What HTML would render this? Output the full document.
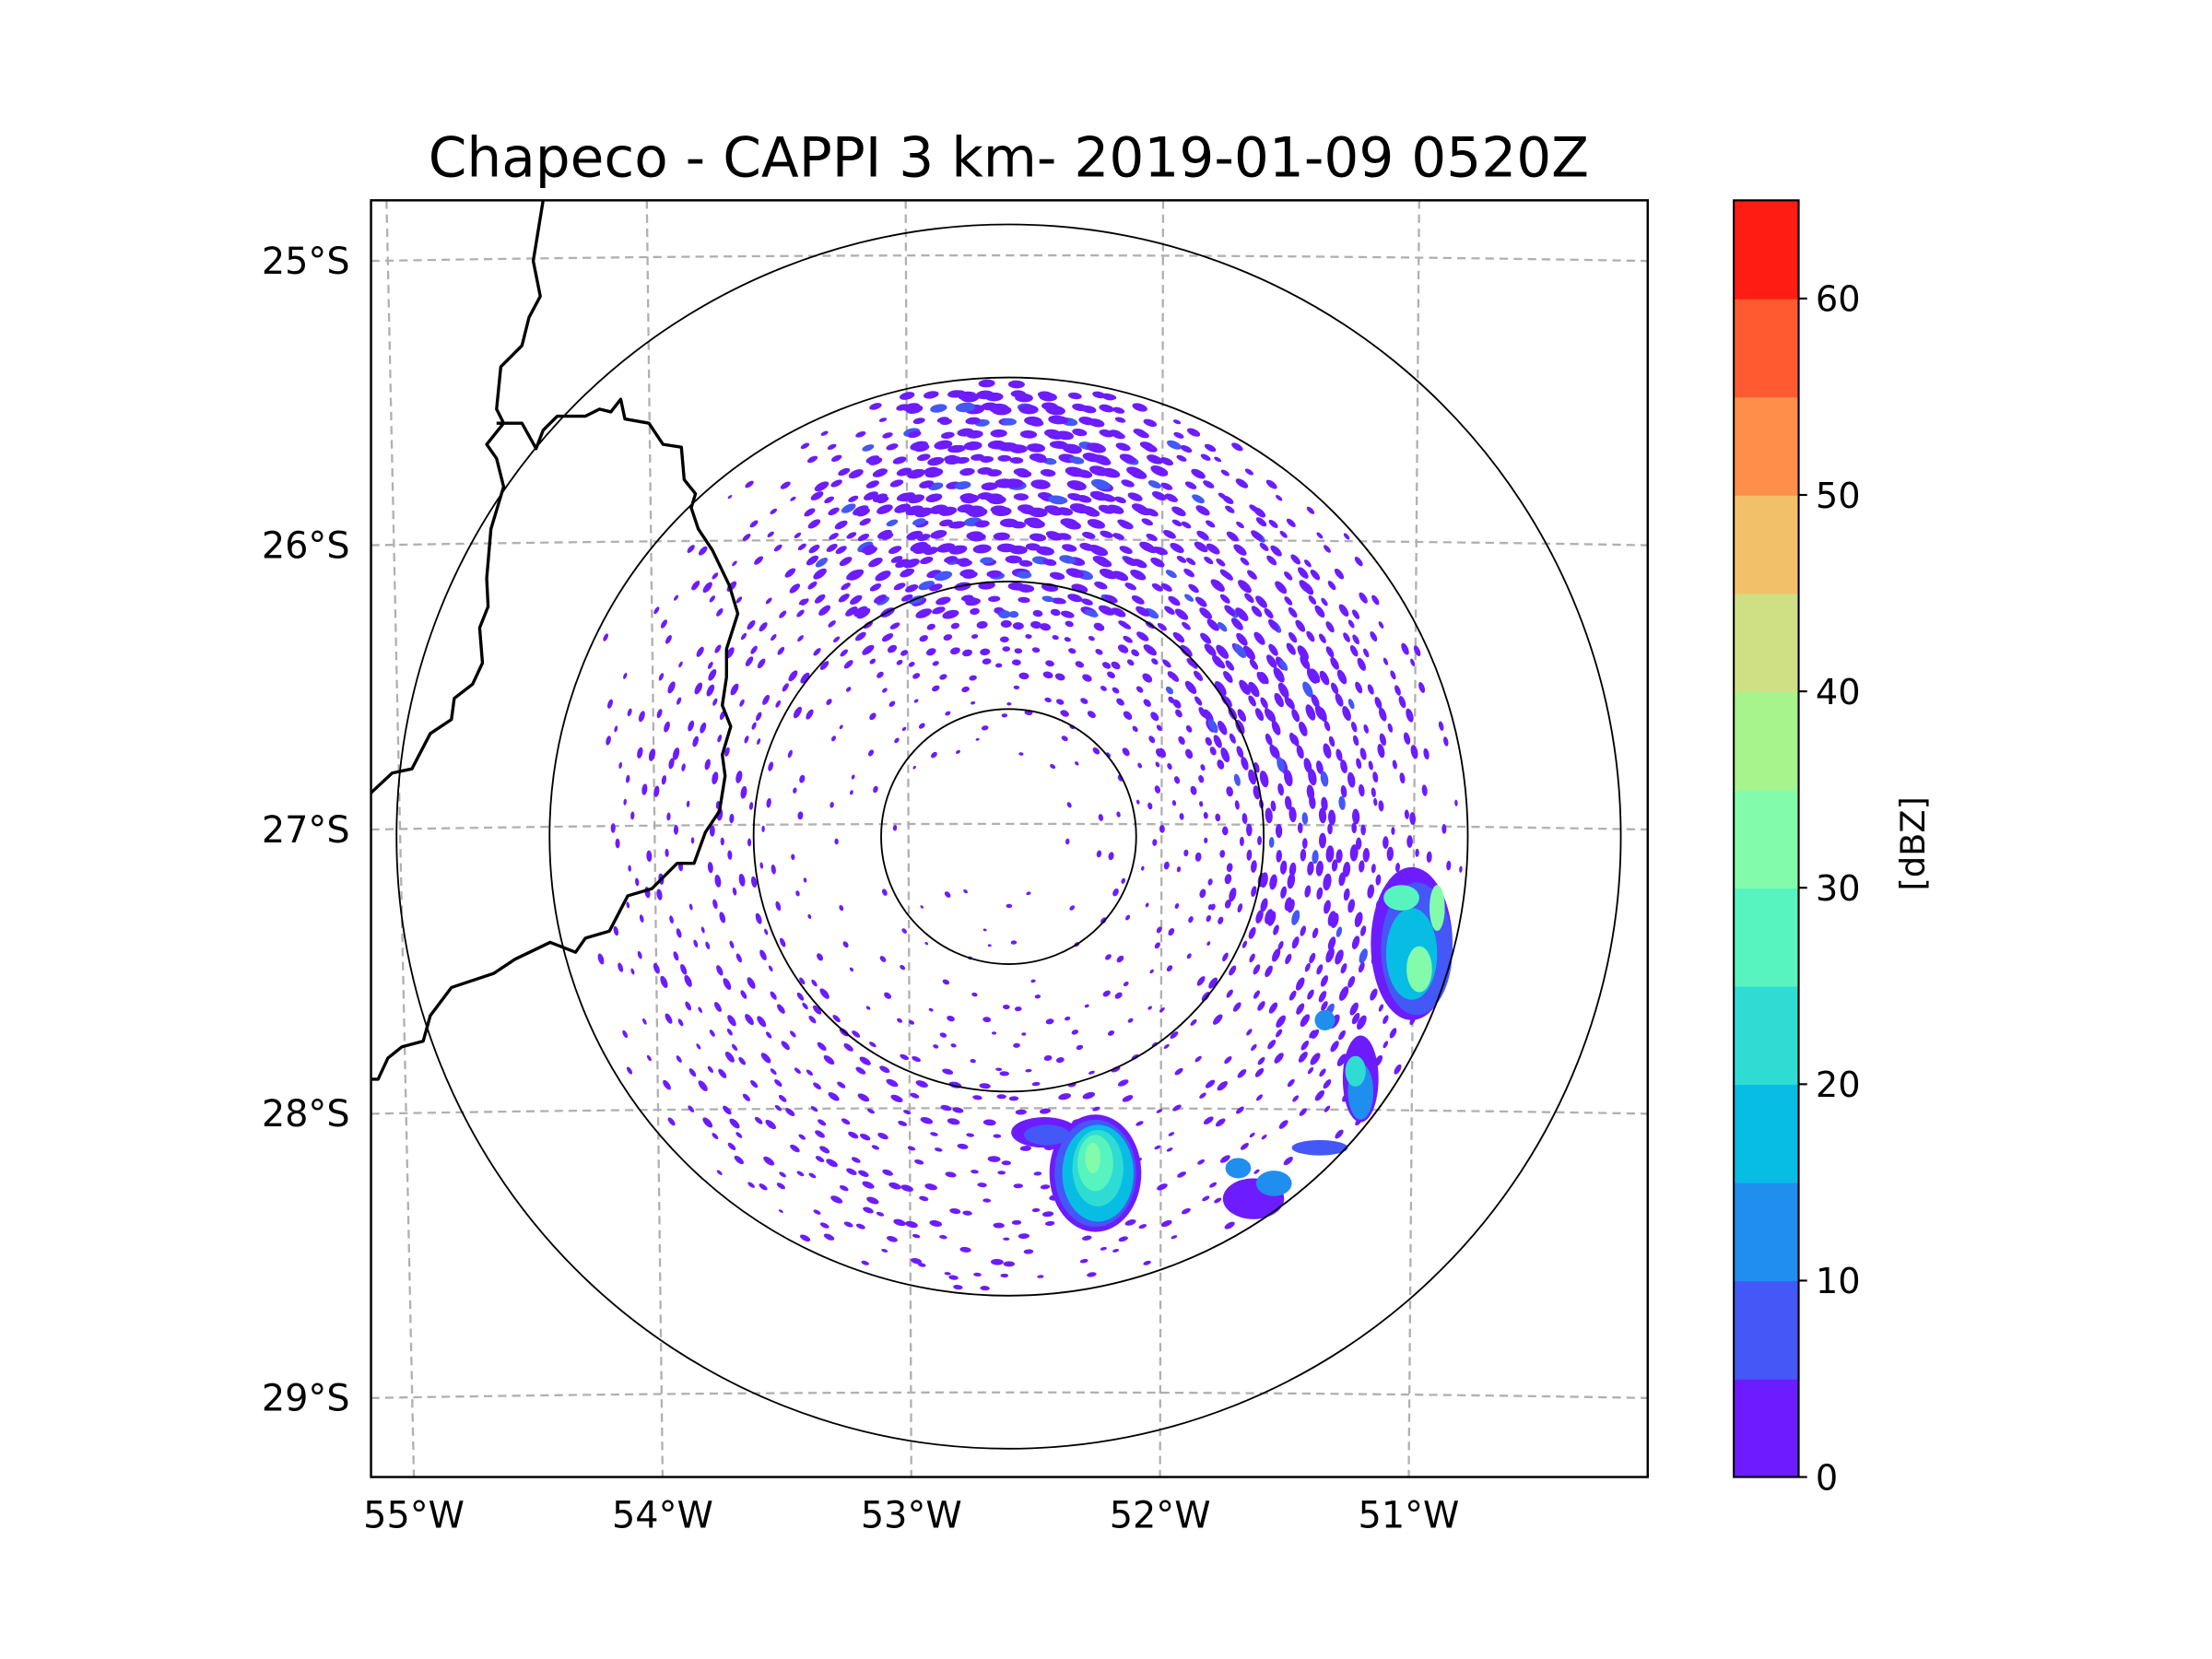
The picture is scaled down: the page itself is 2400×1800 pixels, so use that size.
<!DOCTYPE html>
<html><head><meta charset="utf-8">
<style>
html,body{margin:0;padding:0;background:#fff;}
svg{display:block;font-family:"DejaVu Sans","Liberation Sans",sans-serif;}
</style></head>
<body>
<svg id="chart" width="2400" height="1800" viewBox="0 0 1568 1176" preserveAspectRatio="none" xmlns="http://www.w3.org/2000/svg">
<rect x="0" y="0" width="1568" height="1176" fill="#fff"/>
<text x="715" y="125" font-size="39" text-anchor="middle" fill="#000">Chapeco - CAPPI 3 km- 2019-01-09 0520Z</text>
<defs><clipPath id="axclip"><rect x="263" y="142" width="905" height="905"/></clipPath></defs>
<g id="grid" clip-path="url(#axclip)"></g>
<g id="echoes" clip-path="url(#axclip)"></g>
<g id="rings" clip-path="url(#axclip)"></g>
<g clip-path="url(#axclip)" fill="none" stroke="#000" stroke-width="2.2" stroke-linejoin="round">
<path d="M385,142 L378,185 L383,210 L375,225 L370,245 L355,260 L352,290 L357,300 L345,315 L352,325 L357,345 L348,375 L345,410 L346,430 L340,445 L342,470 L335,485 L322,495 L320,510 L305,520 L292,545 L278,548 L263,562"/>
<path d="M352,300 L370,300 L380,318 L385,305 L395,295 L415,295 L425,290 L433,292 L440,283 L443,297 L460,300 L470,315 L483,317 L485,340 L493,350 L490,360 L495,375 L505,390 L517,415 L523,435 L515,460 L515,480 L512,500 L518,515 L512,535 L514,550 L510,575 L500,590 L492,612 L480,612 L462,630 L445,635 L432,660 L415,665 L408,675 L390,668 L365,680 L350,690 L320,700 L305,720 L300,738 L285,742 L275,750 L268,765 L263,765"/>
</g>
<rect x="263" y="142" width="905" height="905" fill="none" stroke="#000" stroke-width="1.6"/>
<g id="ticks" font-size="26" fill="#000"></g>
<g id="cbar"></g>
<text x="0" y="0" font-size="24" text-anchor="middle" transform="translate(1364,598) rotate(-90)">[dBZ]</text>
</svg>
<script>
// ---- data ----
const lonTicks = [-55, -54, -53, -52, -51];
const latTicks = [-25, -26, -27, -28, -29];
const ringRangesKm = [50, 100, 180, 240];
const cbarLevels = [0,5,10,15,20,25,30,35,40,45,50,55,60,65];
const cbarColors = ["#6c1cff","#4358f6","#1f8eef","#07bde4","#2fdcd3","#57f4c0","#82fcaa","#a7f38c","#cfdf83","#f3c06a","#ff8e4b","#ff5a30","#ff1c12"];
const cbarTickValues = [0,10,20,30,40,50,60];
// convective cells: position/size in km, reflectivity in dBZ
const cellX = [ 34, 14, 15, 34, 35, 35, 34, 33,   158,160,158,154,161,168,   138,138,136,  124,  96,104,122,  90];
const cellY = [-132,-116,-117,-132,-132,-130,-128,-126, -42,-44,-46,-24,-52,-28, -95,-100,-92, -72, -142,-136,-122,-130];
const cellRx= [ 18, 13, 9, 16, 14, 10, 7, 3,   16,14,10,7,5,3,   7,5,4,   4,  12,7,11,5];
const cellRy= [ 23, 6, 4, 21, 19, 15, 11, 6,   30,26,18,5,9,9,   17,11,6,   4,  8,5,3,4];
const cellDbz=[  3, 3, 8, 8, 17, 22, 27, 33,   3,8,17,27,30,30,   3,12,22,  14,  3,10,6,12];
// weak-echo coverage (0-9) on a 20 km grid, rows from y=+170 km down to -170 km, cols x=-170..170 km
const coverageRows = [
"000000368875300000",
"000013577787532000",
"000125678886543100",
"001235677776554310",
"012334566665565431",
"012333444445566532",
"023332222234566542",
"023321111123456542",
"022321100012345532",
"022321000012345642",
"022221111112345542",
"023322111112234542",
"012333222222234531",
"012333332222233431",
"001333333332222310",
"000233333322222200",
"000013332322221000",
"000000223222000000"
];

// ---- scales ----
const NS = "http://www.w3.org/2000/svg";
const cx = 715, cy = 593, pxPerKm = 1.808;
function kmX(k){ return cx + k*pxPerKm; }
function kmY(k){ return cy - k*pxPerKm; }
function lonX(lon, yFrac){
  const top = 642 + (lon+53)*183 - (lon+53)*(lon+53)*0.5;
  const bot = 646 + (lon+53)*176.3;
  return top + (bot-top)*yFrac;
}
function latY(lat){ return 588 + (-(lat)-27)*201.5; }
function cbY(v){ return 1047 - (v-cbarLevels[0])/(cbarLevels[cbarLevels.length-1]-cbarLevels[0])*905; }
function dbzColor(v){ let i=Math.floor(v/5); if(i<0)i=0; if(i>=cbarColors.length)i=cbarColors.length-1; return cbarColors[i]; }
function mk(tag, attrs, parent){ const e=document.createElementNS(NS,tag); for(const k in attrs) e.setAttribute(k, attrs[k]); parent.appendChild(e); return e; }

const grid = document.getElementById('grid');
lonTicks.forEach(lon=>{
  const l = mk('line',{x1:lonX(lon,0),y1:142,x2:lonX(lon,1),y2:1047,stroke:'#b0b0b0','stroke-width':1.5,'stroke-dasharray':'6,4'},grid);
  
  
});
latTicks.forEach(lat=>{
  const y=latY(lat);
  const p = mk('path',{d:`M263,${y} Q715,${y-8} 1168,${y}`,fill:'none',stroke:'#b0b0b0','stroke-width':1.5,'stroke-dasharray':'6,4'},grid);
  
  
});

const echoes = document.getElementById('echoes');
// fixed low-discrepancy sub-cell layout (layout, not data)
const lattice = [];
for(let k=0;k<18;k++){ lattice.push([((k*0.6180339+0.3)%1)*20-10, ((k*0.7548777+0.6)%1)*20-10]); }
coverageRows.forEach((row, ri)=>{
  const yc = 170 - ri*20;
  for(let ci=0; ci<row.length; ci++){
    const xc = -170 + ci*20;
    const d = +row[ci];
    const n = d*2;
    for(let k=0;k<n;k++){
      const jx = lattice[(k+ri*5+ci*3)%18][0], jy = lattice[(k+ri*7+ci*11)%18][1];
      const px = xc + jx, py = yc + jy;
      const r = Math.hypot(px,py);
      if(r>178 || r<12) continue;
      const ang = Math.atan2(-py, px)*180/Math.PI + 90;
      const sz = 0.6 + d*0.22 + ((k+ci)%4)*0.25;
      const X = kmX(px), Y = kmY(py);
      const e = mk('ellipse',{cx:X,cy:Y,rx:sz*pxPerKm*(r>90?1.25:0.9),ry:sz*pxPerKm*0.6,fill:cbarColors[((k+ri)%11===4 && d>4)?1:0],transform:`rotate(${ang.toFixed(1)} ${X.toFixed(1)} ${Y.toFixed(1)})`},echoes);
      
      
    }
  }
});
for(let i=0;i<cellX.length;i++){
  const e = mk('ellipse',{cx:kmX(cellX[i]),cy:kmY(cellY[i]),rx:cellRx[i]*pxPerKm,ry:cellRy[i]*pxPerKm,fill:dbzColor(cellDbz[i])},echoes);
  
  
}

const rings = document.getElementById('rings');
ringRangesKm.forEach(r=>{
  const c = mk('circle',{cx:cx,cy:cy,r:r*pxPerKm,fill:'none',stroke:'#000','stroke-width':1.2},rings);
  
  
});

const ticks = document.getElementById('ticks');
lonTicks.forEach(lon=>{
  const t = mk('text',{x:lonX(lon,1),y:1083,'text-anchor':'middle'},ticks);
  t.textContent = Math.abs(lon)+'°W';
  
  
});
latTicks.forEach(lat=>{
  const t = mk('text',{x:248,y:latY(lat)+9,'text-anchor':'end'},ticks);
  t.textContent = Math.abs(lat)+'°S';
  
  
});

const cbar = document.getElementById('cbar');
for(let i=0;i<cbarColors.length;i++){
  const y1=cbY(cbarLevels[i+1]), y0=cbY(cbarLevels[i]);
  const r = mk('rect',{x:1229,y:y1,width:46,height:y0-y1+0.5,fill:cbarColors[i]},cbar);
  
  
}
const fr = mk('rect',{x:1229,y:142,width:46,height:905,fill:'none',stroke:'#000','stroke-width':1.4},cbar);


cbarTickValues.forEach(v=>{
  const y=cbY(v);
  const l = mk('line',{x1:1275,y1:y,x2:1281,y2:y,stroke:'#000','stroke-width':1.4},cbar);
  
  
  const t = mk('text',{x:1287,y:y+9,'font-size':25},cbar);
  t.textContent = v;
  
  
});
</script>
</body></html>
